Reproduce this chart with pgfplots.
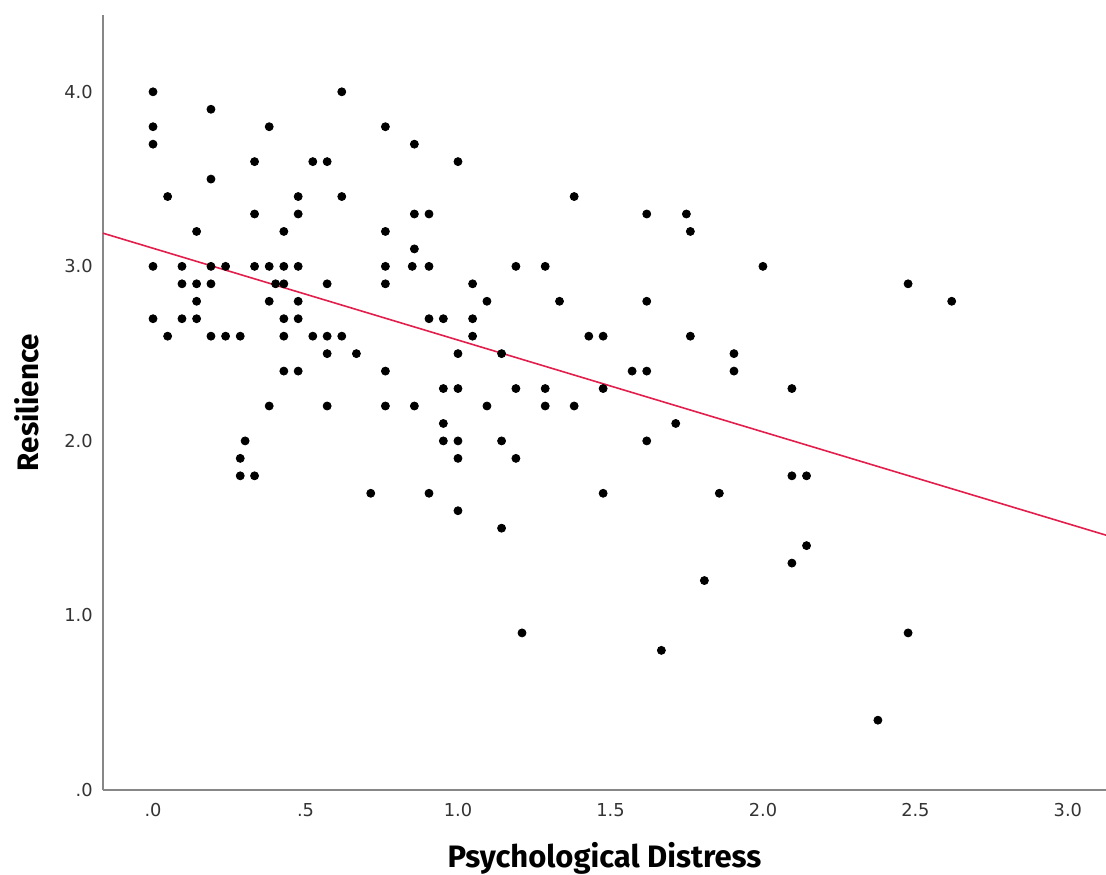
\documentclass[border=0pt]{standalone}
\usepackage{fontspec}
\setmainfont{Fira Sans}
\newfontfamily\ytf{DejaVu Sans}
\usepackage{pgfplots}
\pgfplotsset{compat=1.18}
\definecolor{fitred}{RGB}{226,30,76}
\definecolor{axgray}{RGB}{135,135,135}
\begin{document}
\begin{tikzpicture}
\path[use as bounding box] (-51.5pt,-42pt) rectangle (501.5pt,395pt);
\begin{axis}[
  at={(0,0)}, anchor=south west,
  scale only axis, width=501.5pt, height=387.5pt,
  xmin=-0.164, xmax=3.125, ymin=0, ymax=4.44,
  axis x line*=bottom, axis y line*=left,
  axis line style={axgray, line width=0.75pt, -},
  xtick={0,0.5,1,1.5,2,2.5,3}, xticklabels={.0,.5,1.0,1.5,2.0,2.5,3.0},
  ytick={0,1,2,3,4}, yticklabels={.0,1.0,2.0,3.0,4.0},
  major tick length=0pt,
  xticklabel style={anchor=center, yshift=-10pt, inner sep=0pt, font=\ytf\fontsize{8.9}{10}\selectfont, text=black!80},
  yticklabel style={anchor=east, xshift=-5pt, inner sep=0pt, font=\ytf\fontsize{8.9}{10}\selectfont, text=black!80},
  xlabel={Psychological Distress},
  ylabel={Resilience},
  xlabel style={at={(axis description cs:0.5,0)}, anchor=base, yshift=-38.5pt, inner sep=0pt, font=\bfseries\fontsize{15.5}{18}\selectfont},
  ylabel style={at={(axis description cs:-0.0758,0.5)}, anchor=center, inner sep=0pt, font=\bfseries\fontsize{14.8}{17}\selectfont},
]
\addplot[only marks, mark=*, mark size=2pt, black] table {
x y
0.000 4.0
0.000 3.8
0.000 3.7
0.000 3.0
0.000 2.7
0.048 3.4
0.048 2.6
0.095 3.0
0.095 2.9
0.095 2.7
0.143 3.2
0.143 2.9
0.143 2.8
0.143 2.7
0.190 3.9
0.190 3.5
0.190 3.0
0.190 2.9
0.190 2.6
0.238 3.0
0.238 2.6
0.286 2.6
0.286 1.9
0.286 1.8
0.302 2.0
0.333 3.6
0.333 3.3
0.333 3.0
0.333 1.8
0.381 3.8
0.381 3.0
0.381 2.8
0.381 2.2
0.402 2.9
0.429 3.2
0.429 3.0
0.429 2.9
0.429 2.7
0.429 2.6
0.429 2.4
0.476 3.4
0.476 3.3
0.476 3.0
0.476 2.8
0.476 2.7
0.476 2.4
0.524 3.6
0.524 2.6
0.571 3.6
0.571 2.9
0.571 2.6
0.571 2.5
0.571 2.2
0.619 4.0
0.619 3.4
0.619 2.6
0.667 2.5
0.714 1.7
0.762 3.8
0.762 3.2
0.762 3.0
0.762 2.9
0.762 2.4
0.762 2.2
0.850 3.0
0.857 3.7
0.857 3.3
0.857 3.1
0.857 2.2
0.905 3.3
0.905 3.0
0.905 2.7
0.905 1.7
0.952 2.7
0.952 2.3
0.952 2.1
0.952 2.0
1.000 3.6
1.000 2.5
1.000 2.3
1.000 2.0
1.000 1.9
1.000 1.6
1.048 2.9
1.048 2.7
1.048 2.6
1.095 2.8
1.095 2.2
1.143 2.5
1.143 2.0
1.143 1.5
1.190 3.0
1.190 2.3
1.190 1.9
1.210 0.9
1.286 3.0
1.286 2.3
1.286 2.2
1.333 2.8
1.381 3.4
1.381 2.2
1.429 2.6
1.476 2.6
1.476 2.3
1.476 1.7
1.571 2.4
1.619 3.3
1.619 2.8
1.619 2.4
1.619 2.0
1.667 0.8
1.714 2.1
1.749 3.3
1.762 3.2
1.762 2.6
1.808 1.2
1.857 1.7
1.905 2.5
1.905 2.4
2.000 3.0
2.095 2.3
2.095 1.8
2.095 1.3
2.143 1.8
2.143 1.4
2.377 0.4
2.476 2.9
2.476 0.9
2.619 2.8
};
\addplot[fitred, line width=0.8pt] coordinates {(-0.164,3.190) (3.125,1.460)};
\end{axis}
\end{tikzpicture}
\end{document}
